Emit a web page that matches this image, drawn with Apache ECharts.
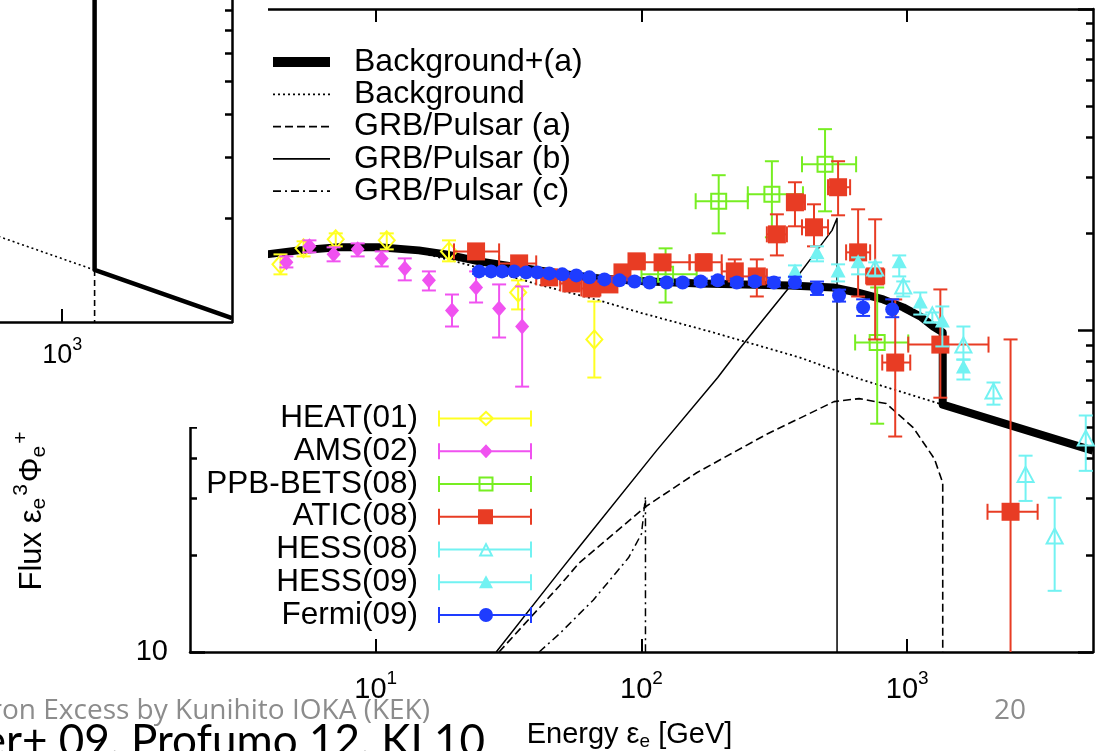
<!DOCTYPE html>
<html>
<head>
<meta charset="utf-8">
<title>Electron + positron spectrum</title>
<script src="https://cdn.jsdelivr.net/npm/echarts@6.0.0/dist/echarts.min.js"></script>
<style>
  html, body { margin: 0; padding: 0; background: #ffffff; }
  #chart { width: 1097px; height: 751px; }
</style>
</head>
<body>
<div id="chart"></div>
<script>
// Energy eps_e [GeV] against flux eps_e^3 Phi, both on log scales.

// ---------- axis ticks ----------
const xTicks = [10, 100, 1000];
const yMajorTicks = [10, 100, 1000];
const yMinorTicks = [20, 30, 40, 50, 60, 70, 80, 90, 200, 300, 400, 500, 600, 700, 800, 900];
const yLabelTicks = [10];
const insetXTicks = [1000];
const insetYTicks = [20, 30, 40, 50, 60, 70, 80, 90];

// ---------- model curves, [energy, flux] ----------
const bgPlusA = [[2.0,161.7],[3.88,172.5],[5.12,177.5],[7.25,181.4],[10.26,181.4],[14.53,177.5],[18.37,172.5],[24.5,164.1],[34.6,157.1],[49.0,150.5],[69.4,145.2],[107.2,142.1],[165.5,140.1],[361.8,138.1],[525.8,136.1],[647.6,131.3],[811.9,124.9],[965.8,118.0],[1119.6,110.6],[1253.5,102.9],[1360,98.6],[1360,58.8],[5000,42.3]];
const background = [[2.0,161.7],[3.88,172.5],[7.25,181.4],[10.26,181.4],[14.53,175.0],[20.57,162.9],[29.12,150.5],[44.96,136.1],[69.4,124.0],[98.3,113.8],[180.6,99.3],[394.7,82.4],[653.3,70.9],[1360,58.8],[5000,42.3]];
const grbA = [[29.1,10],[49.05,16.05],[58.34,18.94],[103.5,28.3],[161.3,36.11],[293.8,47.43],[530.3,60.09],[659.0,61.4],[833.3,59.25],[1053.5,49.87],[1264.6,39.93],[1360,33.61],[1360,10]];
const grbB = [[28.4,10],[49.05,17.75],[58.34,21.24],[113.9,42.3],[193.6,71.4],[234.4,87.9],[361.8,137.1],[457.6,177.5],[521.2,204.9],[544.3,223.3],[544.3,10]];
const grbC = [[41.2,10],[49.05,11.38],[65.9,14.52],[89.3,19.63],[100,23.31],[103.5,30.4],[103.5,10]];

// ---------- close-up of the cutoff ----------
const insetBgPlusA = [[1360,100],[1360,14.15],[5000,10.27]];
const insetBackground = [[500,18.1],[1360,14.15]];
const insetCutoff = [[1360,14.15],[1360,10]];

// ---------- measurements ----------
const heatE  = [4.38, 5.35, 7.07, 11.0, 18.86, 34.34, 66.46];
const heatF  = [160.6, 180.1, 192.1, 190.7, 176.2, 131.3, 93.8];
const heatLo = [149.5, 170.0, 182.7, 178.8, 164.1, 116.3, 71.4];
const heatHi = [172.5, 189.4, 200.5, 200.5, 190.7, 143.2, 123.1];

const amsE  = [4.61, 5.63, 6.94, 8.55, 10.53, 12.86, 15.85, 19.36, 23.85, 29.12, 35.55];
const amsF  = [162.9, 182.7, 172.5, 178.8, 167.6, 156.0, 143.2, 115.4, 136.1, 117.1, 102.9];
const amsLo = [157.1, 175.0, 164.1, 170.0, 158.2, 143.2, 133.2, 102.9, 122.2, 95.1, 66.9];
const amsHi = [170.0, 190.7, 181.4, 186.6, 176.2, 167.6, 152.7, 129.4, 152.7, 139.1, 137.1];

const ppbE   = [123.2, 195.2, 309.5, 490.5, 770.6];
const ppbF   = [149.5, 252.4, 265.3, 328.9, 91.8];
const ppbElo = [100, 159.9, 251.2, 401.7, 636.6];
const ppbEhi = [161.3, 251.2, 405.1, 642.1, 1008.8];
const ppbLo  = [122.2, 200.5, 194.9, 234.8, 51.3];
const ppbHi  = [180.1, 304.1, 336.1, 422.9, 136.1];

const aticE   = [23.85, 34.64, 44.96, 54.42, 64.75, 75.73, 84.79, 95.74, 120.0, 171.4, 224.4, 271.6, 323.2, 378.0, 445.8, 549.2, 653.3, 757.2, 901.0, 1332.1, 2447.6];
const aticF   = [176.2, 161.7, 146.3, 140.1, 135.1, 139.1, 151.6, 164.1, 162.9, 162.9, 152.7, 147.3, 199.1, 250.5, 209.4, 279.0, 175.0, 147.3, 79.5, 90.4, 27.3];
const aticElo = [19.70, 29.12, 40.16, 49.46, 59.37, 70.02, 79.78, 90.09, 102.6, 151.7, 200.4, 238.5, 296.3, 352.5, 401.7, 503.4, 588.7, 700.4, 805.2, 1008.8, 2004.5];
const aticEhi = [29.12, 40.16, 49.46, 59.37, 70.02, 79.78, 90.09, 102.6, 151.7, 200.4, 238.5, 296.3, 352.5, 412.2, 503.4, 609.5, 725.1, 818.9, 1026.4, 2022.0, 3094.8];
const aticLo  = [168.8, 153.8, 140.1, 134.2, 128.5, 132.3, 144.2, 156.0, 154.9, 153.8, 142.1, 127.6, 171.2, 210.9, 182.7, 228.2, 127.6, 93.8, 46.8, 61.8, 5];
const aticHi  = [185.3, 170.0, 152.7, 146.3, 142.1, 146.3, 159.4, 172.5, 171.2, 172.5, 166.4, 166.4, 229.8, 289.1, 246.9, 336.1, 238.2, 221.7, 124.9, 134.2, 93.8];

const hess08E  = [757.2, 965.8, 1242.6, 1626.9, 2111.3, 2787.7, 3586.6, 4695.9];
const hess08F  = [154.9, 136.1, 110.6, 89.2, 64.1, 35.3, 22.7, 45.8];
const hess08Lo = [147.3, 127.6, 105.9, 81.2, 58.8, 29.5, 15.5, 36.6];
const hess08Hi = [162.9, 142.1, 113.8, 102.9, 68.9, 40.8, 30.2, 54.4];

const hess09E  = [378.0, 457.6, 549.2, 653.3, 932.9, 1119.6, 1355.5, 1626.9];
const hess09F  = [152.7, 173.8, 152.7, 162.9, 162.9, 122.2, 106.7, 76.7];
const hess09Lo = [146.3, 164.1, 142.1, 149.5, 147.3, 112.1, 89.2, 70.4];
const hess09Hi = [159.4, 182.7, 160.6, 168.8, 171.2, 131.3, 118.8, 81.2];

const fermiE  = [24.48, 27.16, 29.89, 33.18, 36.81, 40.52, 44.96, 50.33, 56.84, 63.65, 72.52, 82.6, 94.1, 107.2, 124.3, 142.8, 167.0, 193.6, 228.3, 267.0, 314.9, 378.0, 457.6, 553.9, 682.3, 877.9];
const fermiF  = [152.7, 152.7, 152.7, 152.7, 151.6, 151.6, 150.5, 149.5, 148.4, 146.3, 144.2, 143.2, 142.1, 141.1, 141.1, 141.1, 142.1, 143.2, 141.1, 142.1, 141.1, 141.1, 135.1, 128.5, 118.0, 116.3];
const fermiLo = [150, 150, 150, 150, 149, 149, 148, 147, 146, 144, 142, 141, 140, 139, 139, 139, 139, 140, 138, 139, 137, 136, 129, 123, 111, 110];
const fermiHi = [155, 155, 155, 155, 154, 154, 153, 152, 151, 149, 147, 146, 145, 144, 144, 144, 145, 147, 145, 146, 146, 147, 142, 134, 125, 125];

// ---------- styling ----------
const FONT = '"Liberation Sans", Arial, Helvetica, sans-serif';
const SLIDE_FONT = '"Open Sans", "Noto Sans", sans-serif';

const datasets = [
  {name: 'HEAT(01)',     color: '#ffff22', marker: 'diamondOpen',  E: heatE,   F: heatF,   Flo: heatLo,   Fhi: heatHi},
  {name: 'AMS(02)',      color: '#f052f0', marker: 'diamond',      E: amsE,    F: amsF,    Flo: amsLo,    Fhi: amsHi},
  {name: 'PPB-BETS(08)', color: '#77ee22', marker: 'squareOpen',   E: ppbE,    F: ppbF,    Flo: ppbLo,    Fhi: ppbHi,  Elo: ppbElo,  Ehi: ppbEhi},
  {name: 'ATIC(08)',     color: '#e83c24', marker: 'square',       E: aticE,   F: aticF,   Flo: aticLo,   Fhi: aticHi, Elo: aticElo, Ehi: aticEhi},
  {name: 'HESS(08)',     color: '#72f2f2', marker: 'triangleOpen', E: hess08E, F: hess08F, Flo: hess08Lo, Fhi: hess08Hi},
  {name: 'HESS(09)',     color: '#72f2f2', marker: 'triangle',     E: hess09E, F: hess09F, Flo: hess09Lo, Fhi: hess09Hi},
  {name: 'Fermi(09)',    color: '#1e3cff', marker: 'circle',       E: fermiE,  F: fermiF,  Flo: fermiLo,  Fhi: fermiHi}
];

// legend key: error bar with end caps and the point symbol in the middle (94 x 16 box)
const KEY_BAR = 'M0 7L94 7L94 9L0 9Z M0 0L2 0L2 16L0 16Z M92 0L94 0L94 16L92 16Z';
const KEY_MARK = {
  diamondOpen:  'M48 0L56.5 8L48 16L39.5 8Z M48 2.8L42.4 8L48 13.2L53.6 8Z',
  diamond:      'M48 1L54.5 8L48 15L41.5 8Z',
  squareOpen:   'M40.5 0.5L55.5 0.5L55.5 15.5L40.5 15.5Z M42.5 2.5L42.5 13.5L53.5 13.5L53.5 2.5Z',
  square:       'M40 0.5L55 0.5L55 15.5L40 15.5Z',
  triangleOpen: 'M48 0.5L55.5 15L40.5 15Z M48 4.8L43.7 13L52.3 13Z',
  triangle:     'M48 1L55 14L41 14Z',
  circle:       'M41 8A7 7 0 1 1 55 8A7 7 0 1 1 41 8Z'
};

function markerShape(kind, x, y, color) {
  const solid = {fill: color, stroke: 'none'};
  const open = {fill: 'none', stroke: color, lineWidth: 2};
  switch (kind) {
    case 'diamondOpen':  return {type: 'polygon', shape: {points: [[x, y - 9], [x + 8, y], [x, y + 9], [x - 8, y]]}, style: open};
    case 'diamond':      return {type: 'polygon', shape: {points: [[x, y - 8], [x + 7, y], [x, y + 8], [x - 7, y]]}, style: solid};
    case 'squareOpen':   return {type: 'rect', shape: {x: x - 7.5, y: y - 7.5, width: 15, height: 15}, style: open};
    case 'square':       return {type: 'rect', shape: {x: x - 9, y: y - 9, width: 18, height: 18}, style: solid};
    case 'triangleOpen': return {type: 'polygon', shape: {points: [[x, y - 9], [x + 8, y + 6], [x - 8, y + 6]]}, style: open};
    case 'triangle':     return {type: 'polygon', shape: {points: [[x, y - 8], [x + 7.5, y + 6], [x - 7.5, y + 6]]}, style: solid};
    default:             return {type: 'circle', shape: {cx: x, cy: y, r: 7}, style: solid};
  }
}

// error bars (vertical, plus horizontal where energy bins are given) and the point
function errorBars(d) {
  return function (params, api) {
    const i = api.value(2);
    const cs = params.coordSys;
    const top = cs.y, bottom = cs.y + cs.height;
    const clampY = v => Math.max(top, Math.min(bottom, v));
    const c = api.coord([d.E[i], d.F[i]]);
    const st = {stroke: d.color, lineWidth: 2, fill: 'none'};
    const kids = [];
    if (d.Flo) {
      const ya = clampY(api.coord([d.E[i], d.Flo[i]])[1]);
      const yb = clampY(api.coord([d.E[i], d.Fhi[i]])[1]);
      kids.push({type: 'line', shape: {x1: c[0], y1: ya, x2: c[0], y2: yb}, style: st});
      if (ya < bottom - 1) kids.push({type: 'line', shape: {x1: c[0] - 7, y1: ya, x2: c[0] + 7, y2: ya}, style: st});
      if (yb > top + 1) kids.push({type: 'line', shape: {x1: c[0] - 7, y1: yb, x2: c[0] + 7, y2: yb}, style: st});
    }
    if (d.Elo) {
      const xa = api.coord([d.Elo[i], d.F[i]])[0];
      const xb = api.coord([d.Ehi[i], d.F[i]])[0];
      kids.push({type: 'line', shape: {x1: xa, y1: c[1], x2: xb, y2: c[1]}, style: st});
      kids.push({type: 'line', shape: {x1: xa, y1: c[1] - 8, x2: xa, y2: c[1] + 8}, style: st});
      kids.push({type: 'line', shape: {x1: xb, y1: c[1] - 8, x2: xb, y2: c[1] + 8}, style: st});
    }
    kids.push(markerShape(d.marker, c[0], c[1], d.color));
    return {type: 'group', children: kids};
  };
}

const powLabel = v => '{b|10}{s|' + Math.round(Math.log10(v)) + '}';
const powRich = size => ({
  b: {fontSize: size, fontFamily: FONT, color: '#000', verticalAlign: 'middle'},
  s: {fontSize: Math.round(size * 0.66), fontFamily: FONT, color: '#000', verticalAlign: 'middle', padding: [0, 0, 22, 0]}
});

function curve(name, data, lineStyle, xi, yi, z) {
  return {
    name, type: 'line', data, xAxisIndex: xi, yAxisIndex: yi, z,
    symbol: 'none', showSymbol: false, silent: true, smooth: false,
    lineStyle: Object.assign({color: '#000', join: 'round'}, lineStyle)
  };
}

const axisLine = {show: true, lineStyle: {color: '#000', width: 2.5}};
const noLine = {show: false};

const option = {
  animation: false,
  backgroundColor: '#ffffff',
  textStyle: {fontFamily: FONT},
  grid: [
    {left: 190, top: 9, width: 903, height: 643, outerBoundsMode: 'none'},
    {left: 190, top: 9, width: 903, height: 643, outerBoundsMode: 'none'},
    {left: -11, top: -23, width: 243, height: 345, outerBoundsMode: 'none'}
  ],
  xAxis: [
    {
      gridIndex: 0, type: 'log', position: 'bottom', min: 2, max: 5000,
      axisLine,
      axisTick: {show: true, inside: true, length: 13, customValues: xTicks, lineStyle: {color: '#000', width: 2}},
      axisLabel: {show: true, customValues: xTicks, formatter: powLabel, margin: 17, rich: powRich(29)},
      splitLine: {show: false}, minorTick: {show: false},
      name: '{t|Energy ε}{u|e}{t| [GeV]}', nameLocation: 'middle', nameGap: 66,
      nameTextStyle: {
        padding: [0, 24, 0, 0],
        rich: {
          t: {fontSize: 29, fontFamily: FONT, color: '#000', verticalAlign: 'middle'},
          u: {fontSize: 19, fontFamily: FONT, color: '#000', verticalAlign: 'middle', padding: [14, 0, 0, 0]}
        }
      }
    },
    {
      gridIndex: 0, type: 'log', position: 'top', min: 2, max: 5000,
      axisLine,
      axisTick: {show: true, inside: true, length: 13, customValues: xTicks, lineStyle: {color: '#000', width: 2}},
      axisLabel: {show: false}, splitLine: {show: false}
    },
    {gridIndex: 1, type: 'log', min: 2, max: 5000, show: false},
    {
      gridIndex: 2, type: 'log', position: 'bottom', min: 500, max: 5000, z: 100,
      axisLine,
      axisTick: {show: true, inside: true, length: 13, customValues: insetXTicks, lineStyle: {color: '#000', width: 2}},
      axisLabel: {show: true, customValues: insetXTicks, formatter: powLabel, margin: 14, rich: powRich(27)},
      splitLine: {show: false}
    }
  ],
  yAxis: [
    {
      gridIndex: 0, type: 'log', position: 'left', min: 10, max: 1000,
      axisLine,
      axisTick: {show: true, inside: true, length: 15, customValues: yMajorTicks, lineStyle: {color: '#000', width: 2.5}},
      axisLabel: {show: true, customValues: yLabelTicks, formatter: v => String(v), margin: 22, fontSize: 29, fontFamily: FONT, color: '#000'},
      splitLine: {show: false}
    },
    {
      gridIndex: 0, type: 'log', position: 'right', min: 10, max: 1000,
      axisLine,
      axisTick: {show: true, inside: true, length: 15, customValues: yMajorTicks, lineStyle: {color: '#000', width: 2.5}},
      axisLabel: {show: false}, splitLine: {show: false}
    },
    {
      gridIndex: 1, type: 'log', position: 'left', min: 10, max: 1000,
      axisLine: noLine,
      axisTick: {show: true, inside: true, length: 7, customValues: yMinorTicks, lineStyle: {color: '#000', width: 2.5}},
      axisLabel: {show: false}, splitLine: {show: false}
    },
    {
      gridIndex: 1, type: 'log', position: 'right', min: 10, max: 1000,
      axisLine: noLine,
      axisTick: {show: true, inside: true, length: 7, customValues: yMinorTicks, lineStyle: {color: '#000', width: 2.5}},
      axisLabel: {show: false}, splitLine: {show: false}
    },
    {
      gridIndex: 2, type: 'log', position: 'right', min: 10, max: 100, z: 100,
      axisLine,
      axisTick: {show: true, inside: true, length: 7, customValues: insetYTicks, lineStyle: {color: '#000', width: 2.5}},
      axisLabel: {show: false}, splitLine: {show: false}
    }
  ],
  legend: [
    {
      orient: 'vertical', left: 268, top: 46, padding: 0, itemGap: 0.3,
      itemWidth: 57, itemHeight: 10, align: 'left', selectedMode: false,
      itemStyle: {opacity: 0},
      textStyle: {fontSize: 32, fontFamily: FONT, color: '#000', lineHeight: 32, padding: [0, 0, 0, 19]},
      data: [
        {name: 'Background+(a)', lineStyle: {width: 10}},
        {name: 'Background', lineStyle: {width: 1.8}},
        {name: 'GRB/Pulsar (a)', lineStyle: {width: 1.8}},
        {name: 'GRB/Pulsar (b)', lineStyle: {width: 1.8}},
        {name: 'GRB/Pulsar (c)', lineStyle: {width: 1.8}}
      ]
    },
    {
      orient: 'vertical', right: 1097 - 532, top: 402.5, padding: 0, itemGap: 0.75,
      itemWidth: 94, itemHeight: 16, align: 'right', selectedMode: false,
      textStyle: {fontSize: 31.5, fontFamily: FONT, color: '#000', lineHeight: 31, padding: [0, 15, 0, 0]},
      data: datasets.map(d => ({name: d.name, icon: 'path://' + KEY_BAR + ' ' + KEY_MARK[d.marker]}))
    }
  ],
  graphic: {
    elements: [
      // blank margin to the left of the frame, with the close-up drawn over it
      {type: 'rect', z: 50, silent: true, shape: {x: 0, y: 0, width: 268, height: 427}, style: {fill: '#ffffff'}},
      {
        type: 'text', z: 60, x: 32, y: 510, rotation: Math.PI / 2, silent: true,
        style: {
          text: '{t|Flux ε}{u|e}{s|3}{t|Φ}{u|e}{s|+}', align: 'center', verticalAlign: 'middle',
          rich: {
            t: {fontSize: 31, fontFamily: FONT, fill: '#000', verticalAlign: 'middle'},
            u: {fontSize: 21, fontFamily: FONT, fill: '#000', verticalAlign: 'middle', padding: [15, 0, 0, 0]},
            s: {fontSize: 21, fontFamily: FONT, fill: '#000', verticalAlign: 'middle', padding: [0, 2, 22, 2]}
          }
        }
      },
      {
        type: 'text', z: 60, x: 430, y: 711, silent: true,
        style: {text: 'Positron Excess by Kunihito IOKA (KEK)', align: 'right', verticalAlign: 'middle', fontSize: 28, fontFamily: SLIDE_FONT, fill: '#8c8c8c'}
      },
      {
        type: 'text', z: 60, x: 1010, y: 711, silent: true,
        style: {text: '20', align: 'center', verticalAlign: 'middle', fontSize: 28, fontFamily: SLIDE_FONT, fill: '#8c8c8c'}
      },
      {
        type: 'text', z: 60, x: 485, y: 742, silent: true,
        style: {text: 'Hooper+ 09, Profumo 12, KI 10', align: 'right', verticalAlign: 'middle', fontSize: 44, fontFamily: 'Lato, "Open Sans", sans-serif', fill: '#000'}
      }
    ]
  },
  series: [
    curve('Background+(a)', bgPlusA, {width: 8}, 0, 0, 2),
    curve('Background', background, {width: 1.8, type: [2, 3]}, 0, 0, 2),
    curve('GRB/Pulsar (a)', grbA, {width: 1.6, type: [8, 4]}, 0, 0, 2),
    curve('GRB/Pulsar (b)', grbB, {width: 1.5}, 0, 0, 2),
    curve('GRB/Pulsar (c)', grbC, {width: 1.5, type: [8, 4, 2, 4]}, 0, 0, 2),
    curve('close-up Background+(a)', insetBgPlusA, {width: 4.5}, 3, 4, 100),
    curve('close-up Background', insetBackground, {width: 1.6, type: [2, 3]}, 3, 4, 100),
    curve('close-up GRB/Pulsar (a)', insetCutoff, {width: 1.6, type: [6, 4]}, 3, 4, 100)
  ].concat(datasets.map(d => ({
    name: d.name, type: 'custom', xAxisIndex: 0, yAxisIndex: 0, z: 3, silent: true,
    itemStyle: {color: d.color},
    data: d.E.map((e, i) => [e, d.F[i], i]),
    encode: {x: 0, y: 1},
    renderItem: errorBars(d)
  })))
};

const chart = echarts.init(document.getElementById('chart'), null, {renderer: 'canvas'});
chart.setOption(option);
</script>
</body>
</html>
